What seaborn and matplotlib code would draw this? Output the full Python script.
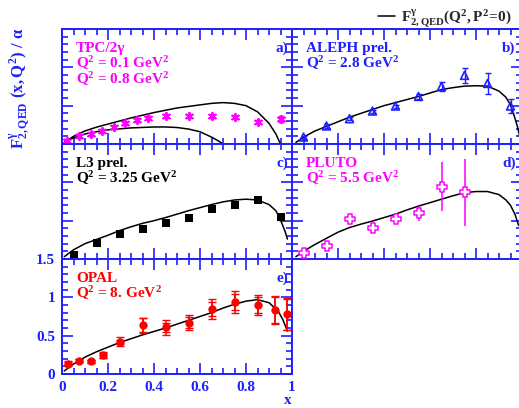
import numpy as np
import pandas as pd
import matplotlib
matplotlib.use("Agg")
import matplotlib.pyplot as plt
from matplotlib.lines import Line2D
from matplotlib.ticker import MultipleLocator, FuncFormatter
import seaborn as sns

# ---- data ----
# a) TPC/2gamma
tpc_x = [0.02, 0.075, 0.125, 0.175, 0.225, 0.275, 0.325, 0.375, 0.45, 0.55, 0.65, 0.75, 0.85, 0.95]
tpc_y = [0.04, 0.10, 0.13, 0.17, 0.22, 0.27, 0.31, 0.34, 0.365, 0.365, 0.36, 0.35, 0.29, 0.33]
tpc_err = [0.02, 0.02, 0.02, 0.02, 0.02, 0.02, 0.02, 0.02, 0.02, 0.02, 0.02, 0.02, 0.02, 0.04]
qed_a_hi_x = [0.01, 0.05, 0.1, 0.15, 0.2, 0.3, 0.4, 0.5, 0.6, 0.65, 0.7, 0.75, 0.8, 0.85, 0.9, 0.93, 0.95]
qed_a_hi_y = [0.02, 0.10, 0.17, 0.22, 0.26, 0.34, 0.41, 0.47, 0.51, 0.53, 0.54, 0.53, 0.50, 0.42, 0.27, 0.13, 0.0]
qed_a_lo_x = [0.01, 0.05, 0.1, 0.15, 0.2, 0.3, 0.4, 0.45, 0.5, 0.55, 0.6, 0.65, 0.68, 0.70]
qed_a_lo_y = [0.02, 0.08, 0.13, 0.16, 0.185, 0.21, 0.222, 0.222, 0.215, 0.195, 0.16, 0.09, 0.04, 0.0]

# b) ALEPH
aleph_x = [0.05, 0.15, 0.25, 0.35, 0.45, 0.55, 0.65, 0.75, 0.85, 0.95]
aleph_y = [0.09, 0.235, 0.33, 0.43, 0.495, 0.62, 0.75, 0.895, 0.79, 0.495]
aleph_err = [0.02, 0.02, 0.02, 0.02, 0.02, 0.03, 0.065, 0.095, 0.14, 0.09]
qed_b_x = [0.017, 0.05, 0.1, 0.15, 0.2, 0.25, 0.3, 0.35, 0.4, 0.45, 0.5, 0.55, 0.6, 0.65, 0.7,
           0.75, 0.8, 0.85, 0.9, 0.93, 0.95, 0.97, 0.98, 0.99]
qed_b_y = [0.02, 0.09, 0.17, 0.23, 0.29, 0.35, 0.40, 0.45, 0.50, 0.54, 0.58, 0.62, 0.665, 0.71, 0.735,
           0.755, 0.76, 0.755, 0.69, 0.61, 0.51, 0.33, 0.23, 0.10]

# c) L3
l3_x = [0.05, 0.15, 0.25, 0.35, 0.45, 0.55, 0.65, 0.75, 0.85, 0.95]
l3_y = [0.056, 0.21, 0.32, 0.39, 0.47, 0.53, 0.65, 0.70, 0.765, 0.55]
l3_err = [0.0, 0.0, 0.0, 0.0, 0.0, 0.0, 0.0, 0.0, 0.02, 0.04]
qed_c_x = [0.01, 0.05, 0.1, 0.15, 0.2, 0.25, 0.3, 0.35, 0.4, 0.45, 0.5, 0.55, 0.6, 0.65, 0.7,
           0.75, 0.8, 0.85, 0.9, 0.93, 0.95, 0.97, 0.98]
qed_c_y = [0.03, 0.12, 0.20, 0.255, 0.31, 0.37, 0.42, 0.465, 0.50, 0.54, 0.585, 0.63, 0.67, 0.71, 0.745,
           0.77, 0.78, 0.77, 0.71, 0.63, 0.51, 0.36, 0.26]

# d) PLUTO
pluto_x = [0.05, 0.15, 0.25, 0.35, 0.45, 0.55, 0.65, 0.75]
pluto_y = [0.074, 0.17, 0.52, 0.40, 0.525, 0.595, 0.94, 0.87]
pluto_err = [0.02, 0.02, 0.05, 0.06, 0.07, 0.10, 0.32, 0.44]
qed_d_x = [0.017, 0.05, 0.1, 0.15, 0.2, 0.25, 0.3, 0.35, 0.4, 0.45, 0.5, 0.55, 0.6, 0.65, 0.7,
           0.75, 0.8, 0.85, 0.9, 0.93, 0.95, 0.97, 0.985]
qed_d_y = [0.03, 0.10, 0.19, 0.27, 0.35, 0.41, 0.455, 0.495, 0.54, 0.585, 0.64, 0.69, 0.735, 0.78, 0.825,
           0.865, 0.88, 0.88, 0.84, 0.77, 0.70, 0.58, 0.44]

# e) OPAL
opal_x = [0.028, 0.075, 0.125, 0.178, 0.25, 0.35, 0.45, 0.55, 0.65, 0.75, 0.85, 0.927, 0.977]
opal_y = [0.135, 0.175, 0.165, 0.245, 0.42, 0.635, 0.61, 0.67, 0.85, 0.94, 0.90, 0.835, 0.78]
opal_err_tot = [0.03, 0.02, 0.02, 0.04, 0.06, 0.10, 0.096, 0.10, 0.13, 0.145, 0.134, 0.186, 0.206]
opal_err_stat = [0.02, 0.02, 0.02, 0.03, 0.03, 0.09, 0.06, 0.07, 0.09, 0.10, 0.10, 0.17, 0.20]
qed_e_x = [0.01, 0.05, 0.1, 0.15, 0.2, 0.25, 0.3, 0.35, 0.4, 0.45, 0.5, 0.55, 0.6, 0.65, 0.7,
           0.75, 0.8, 0.85, 0.9, 0.94, 0.96, 0.98]
qed_e_y = [0.04, 0.13, 0.22, 0.29, 0.35, 0.41, 0.46, 0.51, 0.555, 0.60, 0.65, 0.70, 0.75, 0.80, 0.86,
           0.91, 0.95, 0.97, 0.93, 0.82, 0.71, 0.56]

BLUE = "#1f1fff"
MAGENTA = "#ff00ff"
RED = "#ff0000"

sns.set_style("ticks")
plt.rcParams["font.family"] = ["Liberation Serif", "DejaVu Serif"]
plt.rcParams["font.weight"] = "bold"
plt.rcParams["mathtext.fontset"] = "custom"
plt.rcParams["mathtext.rm"] = "Liberation Serif:bold"
plt.rcParams["mathtext.bf"] = "Liberation Serif:bold"
plt.rcParams["mathtext.it"] = "Liberation Serif:bold"
plt.rcParams["mathtext.default"] = "bf"

W, H = 519, 408
fig = plt.figure(figsize=(W / 100, H / 100), dpi=100)

colx = [62, 292]
rowtop = [29, 144, 259]
pw, ph = 230, 115


def make_ax(col, row):
    ax = fig.add_axes([colx[col] / W, (H - rowtop[row] - ph) / H, pw / W, ph / H])
    ax.set_xlim(0, 1)
    ax.set_ylim(0, 1.5)
    for s in ax.spines.values():
        s.set_color(BLUE)
        s.set_linewidth(1.4)
    ax.xaxis.set_major_locator(MultipleLocator(0.2))
    ax.xaxis.set_minor_locator(MultipleLocator(0.05))
    ax.yaxis.set_major_locator(MultipleLocator(0.5))
    ax.yaxis.set_minor_locator(MultipleLocator(0.1))
    ax.tick_params(which="both", direction="in", top=True, right=True, color=BLUE,
                   width=1.2, labelcolor=BLUE, labelsize=11, pad=5)
    ax.tick_params(which="major", length=8)
    ax.tick_params(which="minor", length=4)
    ax.set_xlabel("")
    ax.set_ylabel("")
    return ax


def curve(ax, xs, ys):
    sns.lineplot(x=xs, y=ys, ax=ax, color="black", lw=1.1, sort=False, estimator=None)


def tag(ax, label, xpos=0.985):
    ax.text(xpos, 0.80, label, transform=ax.transAxes, ha="right", va="baseline",
            color=BLUE, fontsize=11, fontweight="bold")


def info(ax, lines, color):
    for i, t in enumerate(lines):
        ax.text(0.061, 0.797 - i * 0.139, t, transform=ax.transAxes, ha="left", va="baseline",
                color=color, fontsize=11, fontweight="bold")


# a)
ax_a = make_ax(0, 0)
curve(ax_a, qed_a_hi_x, qed_a_hi_y)
curve(ax_a, qed_a_lo_x, qed_a_lo_y)
ax_a.errorbar(tpc_x, tpc_y, yerr=tpc_err, fmt="none", ecolor=MAGENTA, elinewidth=1, capsize=2)
sns.scatterplot(x=tpc_x, y=tpc_y, ax=ax_a, marker=(6, 2, 0), s=28, color=MAGENTA,
                edgecolor=MAGENTA, linewidth=1.4, zorder=5)
info(ax_a, ["TPC/2γ", "Q$^2$ = 0.1 GeV$^2$", "Q$^2$ = 0.8 GeV$^2$"], MAGENTA)
tag(ax_a, "a)")

# b)
ax_b = make_ax(1, 0)
curve(ax_b, qed_b_x, qed_b_y)
ax_b.errorbar(aleph_x, aleph_y, yerr=aleph_err, fmt="none", ecolor=BLUE, elinewidth=1, capsize=2.5)
sns.scatterplot(x=aleph_x, y=aleph_y, ax=ax_b, marker="^", s=32, facecolor="none",
                edgecolor=BLUE, linewidth=1.2, zorder=5)
info(ax_b, ["ALEPH prel.", "Q$^2$ = 2.8 GeV$^2$"], BLUE)
tag(ax_b, "b)", xpos=0.972)

# c)
ax_c = make_ax(0, 1)
curve(ax_c, qed_c_x, qed_c_y)
ax_c.errorbar(l3_x, l3_y, yerr=l3_err, fmt="none", ecolor="black", elinewidth=1, capsize=2.5)
sns.scatterplot(x=l3_x, y=l3_y, ax=ax_c, marker="s", s=26, color="black",
                edgecolor="black", linewidth=0, zorder=5)
info(ax_c, ["L3 prel.", "Q$^2$ = 3.25 GeV$^2$"], "black")
tag(ax_c, "c)")

# d)
ax_d = make_ax(1, 1)
curve(ax_d, qed_d_x, qed_d_y)
ax_d.errorbar(pluto_x, pluto_y, yerr=pluto_err, fmt="none", ecolor=MAGENTA, elinewidth=1.1)
sns.scatterplot(x=pluto_x, y=pluto_y, ax=ax_d, marker="P", s=42, facecolor="white",
                edgecolor=MAGENTA, linewidth=1.1, zorder=5)
info(ax_d, ["PLUTO", "Q$^2$ = 5.5 GeV$^2$"], MAGENTA)
tag(ax_d, "d)", xpos=0.972)

# e)
ax_e = make_ax(0, 2)
curve(ax_e, qed_e_x, qed_e_y)
ax_e.errorbar(opal_x, opal_y, yerr=opal_err_tot, fmt="none", ecolor=RED, elinewidth=1.1, capsize=3)
ax_e.errorbar(opal_x, opal_y, yerr=opal_err_stat, fmt="none", ecolor=RED, elinewidth=1.1, capsize=3)
sns.scatterplot(x=opal_x, y=opal_y, ax=ax_e, marker="o", s=36, color=RED,
                edgecolor=RED, linewidth=0, zorder=5)
info(ax_e, ["OPAL", "Q$^2$ = 8. GeV$^2$"], RED)
tag(ax_e, "e)")

for ax in [ax_a, ax_b, ax_c, ax_d]:
    ax.set_xticklabels([])
    ax.set_yticklabels([])
ax_e.xaxis.set_major_formatter(FuncFormatter(lambda v, p: f"{v:g}"))
ax_e.yaxis.set_major_formatter(FuncFormatter(lambda v, p: f"{v:g}"))
for lab in ax_e.get_xticklabels() + ax_e.get_yticklabels():
    lab.set_fontweight("bold")
ax_e.set_xlabel("x", loc="right", color=BLUE, fontsize=11, fontweight="bold", labelpad=0)

fig.text(20 / W, 1 - 88 / H, r"$F^{\gamma}_{2,QED}\ (x,Q^2)\ /\ \alpha$", rotation=90,
         ha="center", va="center", color=BLUE, fontsize=12)

fig.legend(handles=[Line2D([], [], color="black", lw=1.1)],
           labels=[r"$F^{\gamma}_{2,QED}(Q^2,P^2\!=\!0)$"],
           loc="upper right", bbox_to_anchor=(1.0, 1.0), frameon=False,
           handlelength=1.1, handletextpad=0.4, borderaxespad=0.1, fontsize=11)

fig.savefig("out.png", dpi=100)
